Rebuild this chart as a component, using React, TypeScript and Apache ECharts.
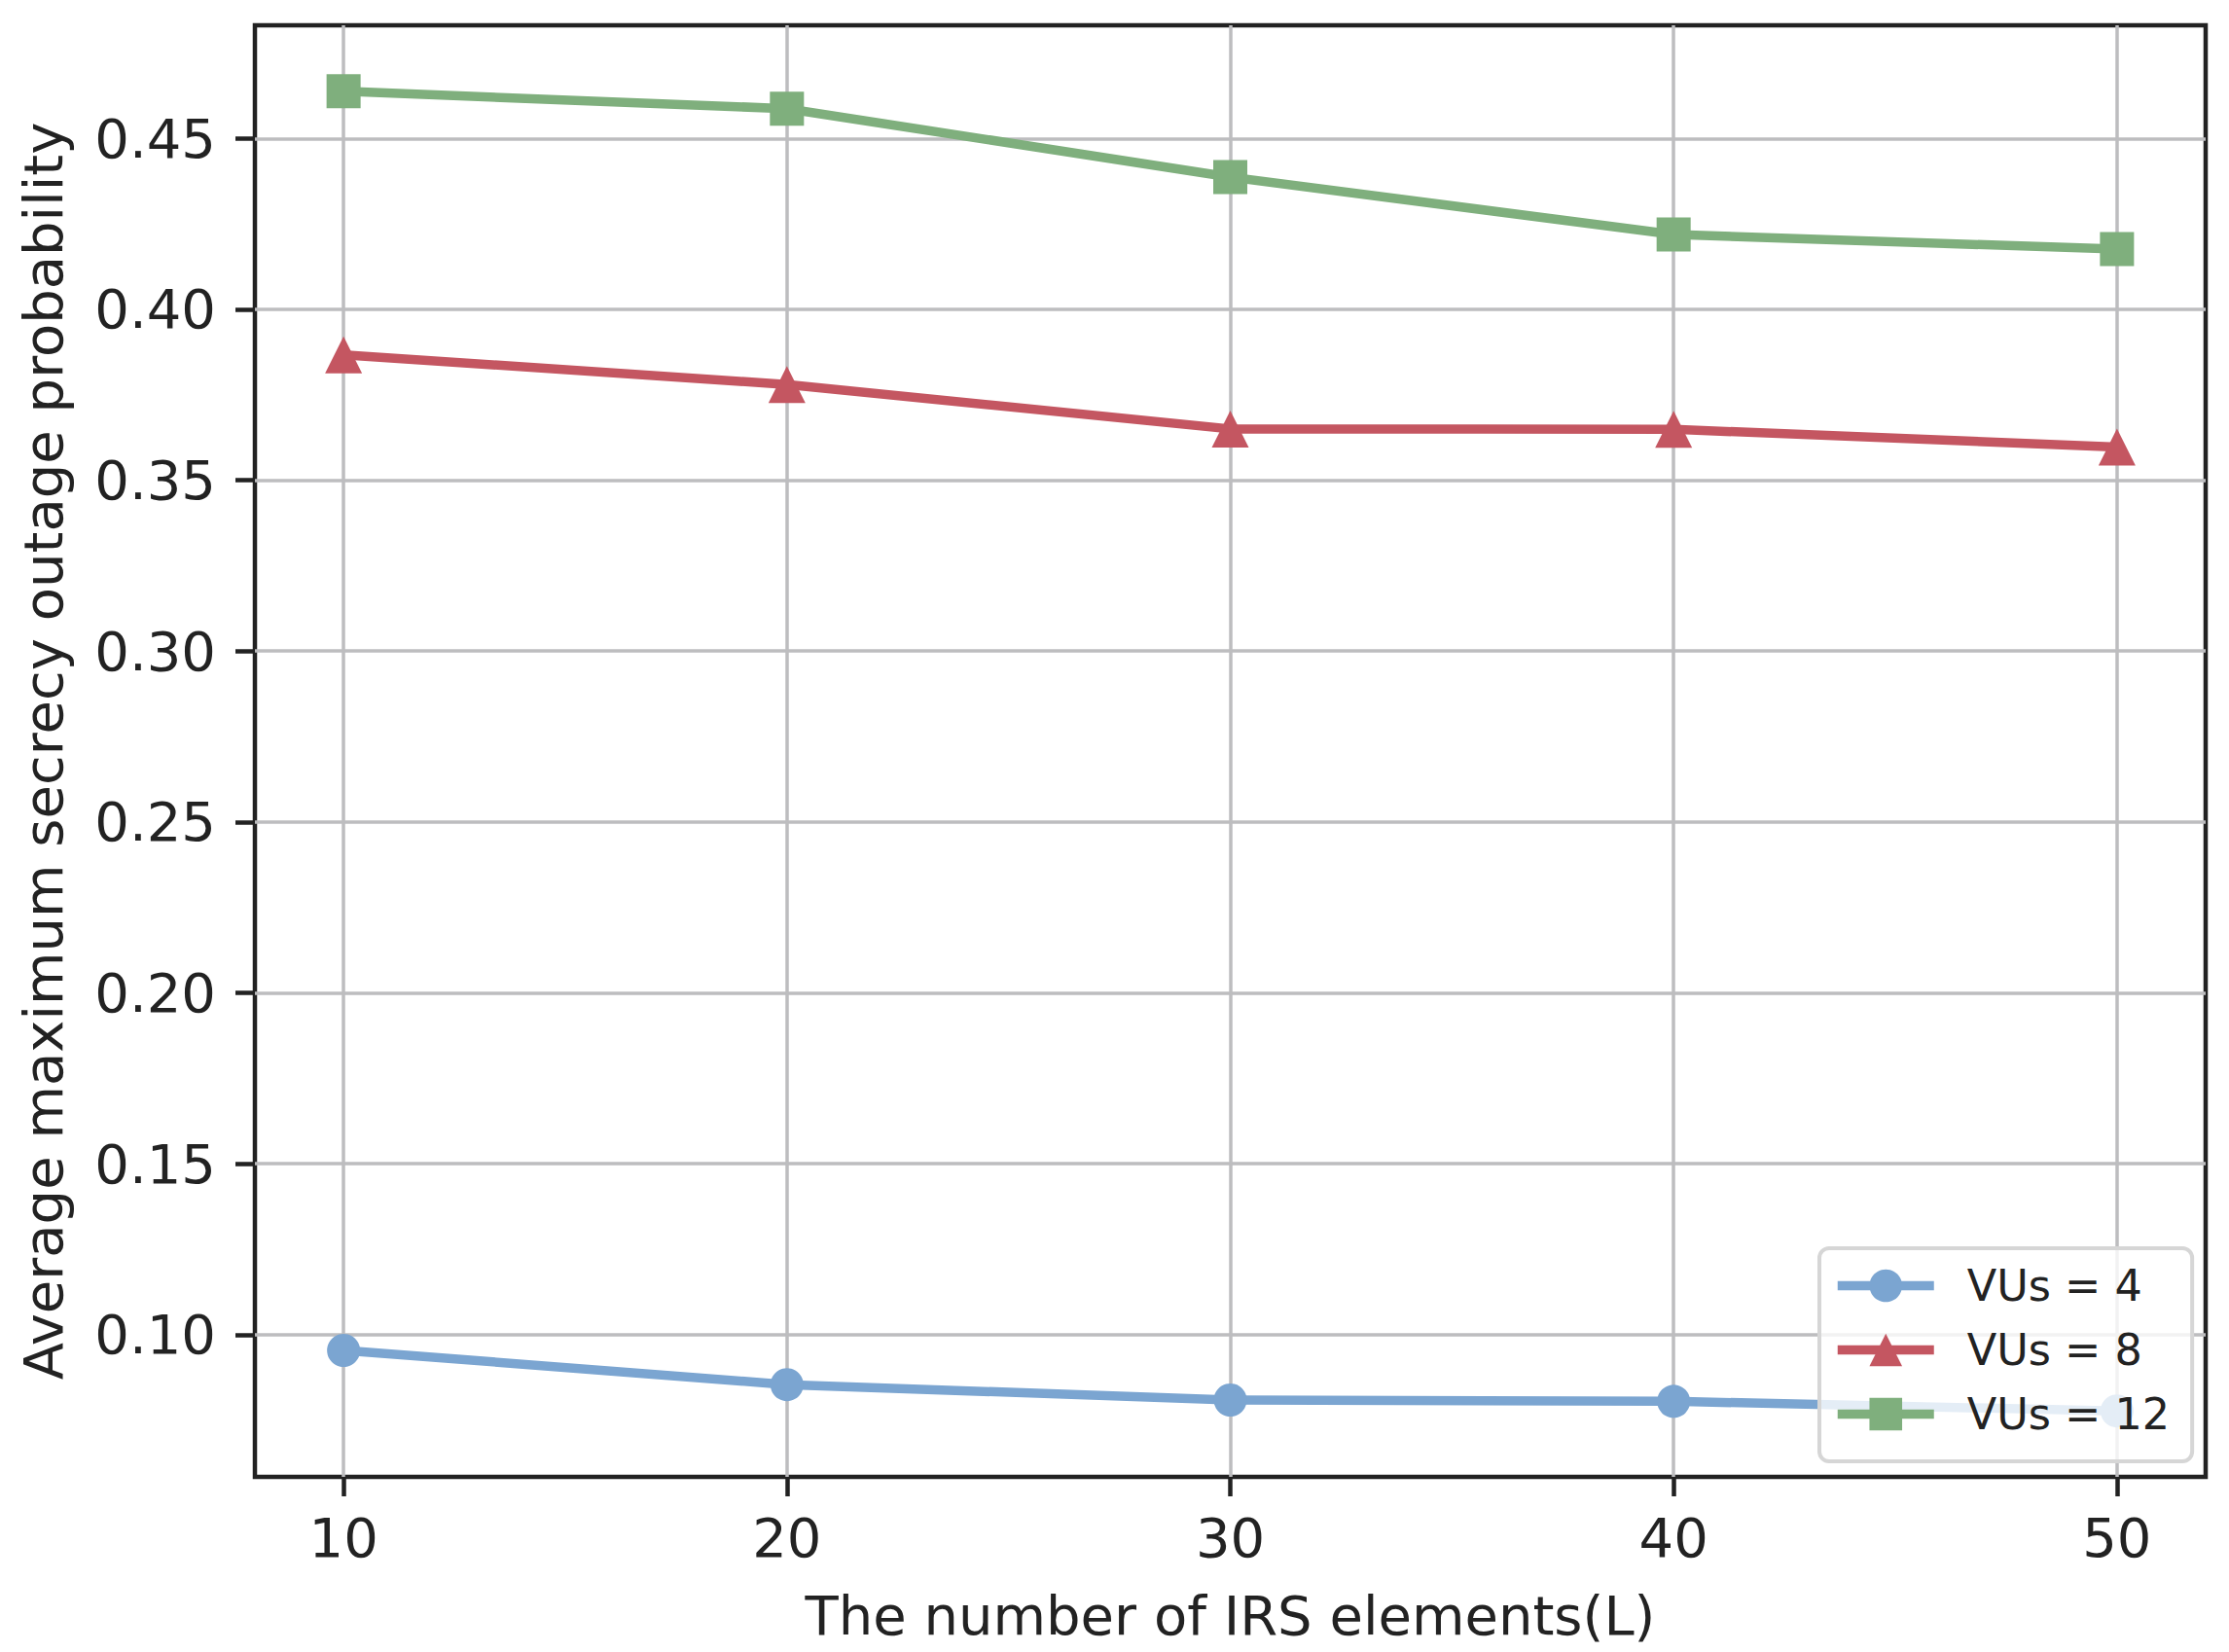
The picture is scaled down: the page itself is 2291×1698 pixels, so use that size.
import { useEffect, useRef } from 'react'
import * as echarts from 'echarts'

const irsElements = [10, 20, 30, 40, 50]
const vus4 = [0.0954, 0.0854, 0.0809, 0.0805, 0.0777]
const vus8 = [0.3867, 0.378, 0.365, 0.3649, 0.3597]
const vus12 = [0.4638, 0.4587, 0.4387, 0.4219, 0.4176]
const seriesNames = ['VUs = 4', 'VUs = 8', 'VUs = 12']
const xTicks = [10, 20, 30, 40, 50]
const yTicks = [0.1, 0.15, 0.2, 0.25, 0.3, 0.35, 0.4, 0.45]

const FONT = 'DejaVu Sans'
const INK = '#222222'

function toPoints(values: number[]) {
  return values.map((v, i) => [irsElements[i], v])
}

export default function App() {
  const chartRef = useRef<HTMLDivElement | null>(null)

  useEffect(() => {
    document.body.style.margin = '0'
    if (!chartRef.current) {
      return
    }

    const chart = echarts.init(chartRef.current, null, { renderer: 'svg' })
    const line = (name: string, values: number[], color: string, symbol: string, size: number) => ({
      name,
      type: 'line',
      data: toPoints(values),
      symbol,
      symbolSize: size,
      showAllSymbol: true,
      lineStyle: { color, width: 9.5 },
      itemStyle: { color },
    })

    chart.setOption({
      animation: false,
      backgroundColor: '#ffffff',
      grid: {
        left: 262,
        right: 24,
        top: 26,
        bottom: 180,
        show: true,
        borderColor: INK,
        borderWidth: 4.5,
        backgroundColor: 'transparent',
      },
      legend: {
        orient: 'vertical',
        left: 1870,
        top: 1283,
        data: seriesNames,
        itemWidth: 99,
        itemHeight: 42,
        itemGap: 21,
        padding: [16, 23, 26, 14],
        backgroundColor: 'rgba(255,255,255,0.8)',
        borderColor: '#d6d6d6',
        borderWidth: 4,
        borderRadius: 10,
        lineStyle: { width: 9.5 },
        textStyle: {
          fontFamily: FONT,
          fontSize: 44.5,
          color: INK,
          lineHeight: 42,
          padding: [0, 0, 0, 29],
        },
      },
      xAxis: {
        type: 'value',
        min: 8,
        max: 52,
        name: 'The number of IRS elements(L)',
        nameLocation: 'middle',
        nameGap: 114,
        nameTextStyle: { fontFamily: FONT, fontSize: 56, color: INK },
        axisLine: { show: false },
        axisTick: {
          show: true,
          inside: false,
          length: 20,
          customValues: xTicks,
          lineStyle: { color: INK, width: 4.5 },
        },
        axisLabel: {
          customValues: xTicks,
          margin: 34,
          fontFamily: FONT,
          fontSize: 56,
          color: INK,
        },
        splitLine: { show: true, lineStyle: { color: '#bdbdbf', width: 3.5 } },
      },
      yAxis: {
        type: 'value',
        min: 0.0584,
        max: 0.4831,
        name: 'Average maximum secrecy outage probability',
        nameLocation: 'middle',
        nameGap: 190,
        nameTextStyle: { fontFamily: FONT, fontSize: 56, color: INK },
        axisLine: { show: false },
        axisTick: {
          show: true,
          inside: false,
          length: 20,
          customValues: yTicks,
          lineStyle: { color: INK, width: 4.5 },
        },
        axisLabel: {
          customValues: yTicks,
          margin: 40,
          fontFamily: FONT,
          fontSize: 56,
          color: INK,
          formatter: (v: number) => v.toFixed(2),
        },
        splitLine: { show: true, lineStyle: { color: '#bdbdbf', width: 3.5 } },
      },
      series: [
        line(seriesNames[0], vus4, '#7ba5d1', 'circle', 34),
        line(seriesNames[1], vus8, '#c45661', 'triangle', 38),
        line(seriesNames[2], vus12, '#7faf7d', 'rect', 35),
      ],
    })

    return () => {
      chart.dispose()
    }
  }, [])

  return <div ref={chartRef} style={{ width: 2291, height: 1698 }} />
}
